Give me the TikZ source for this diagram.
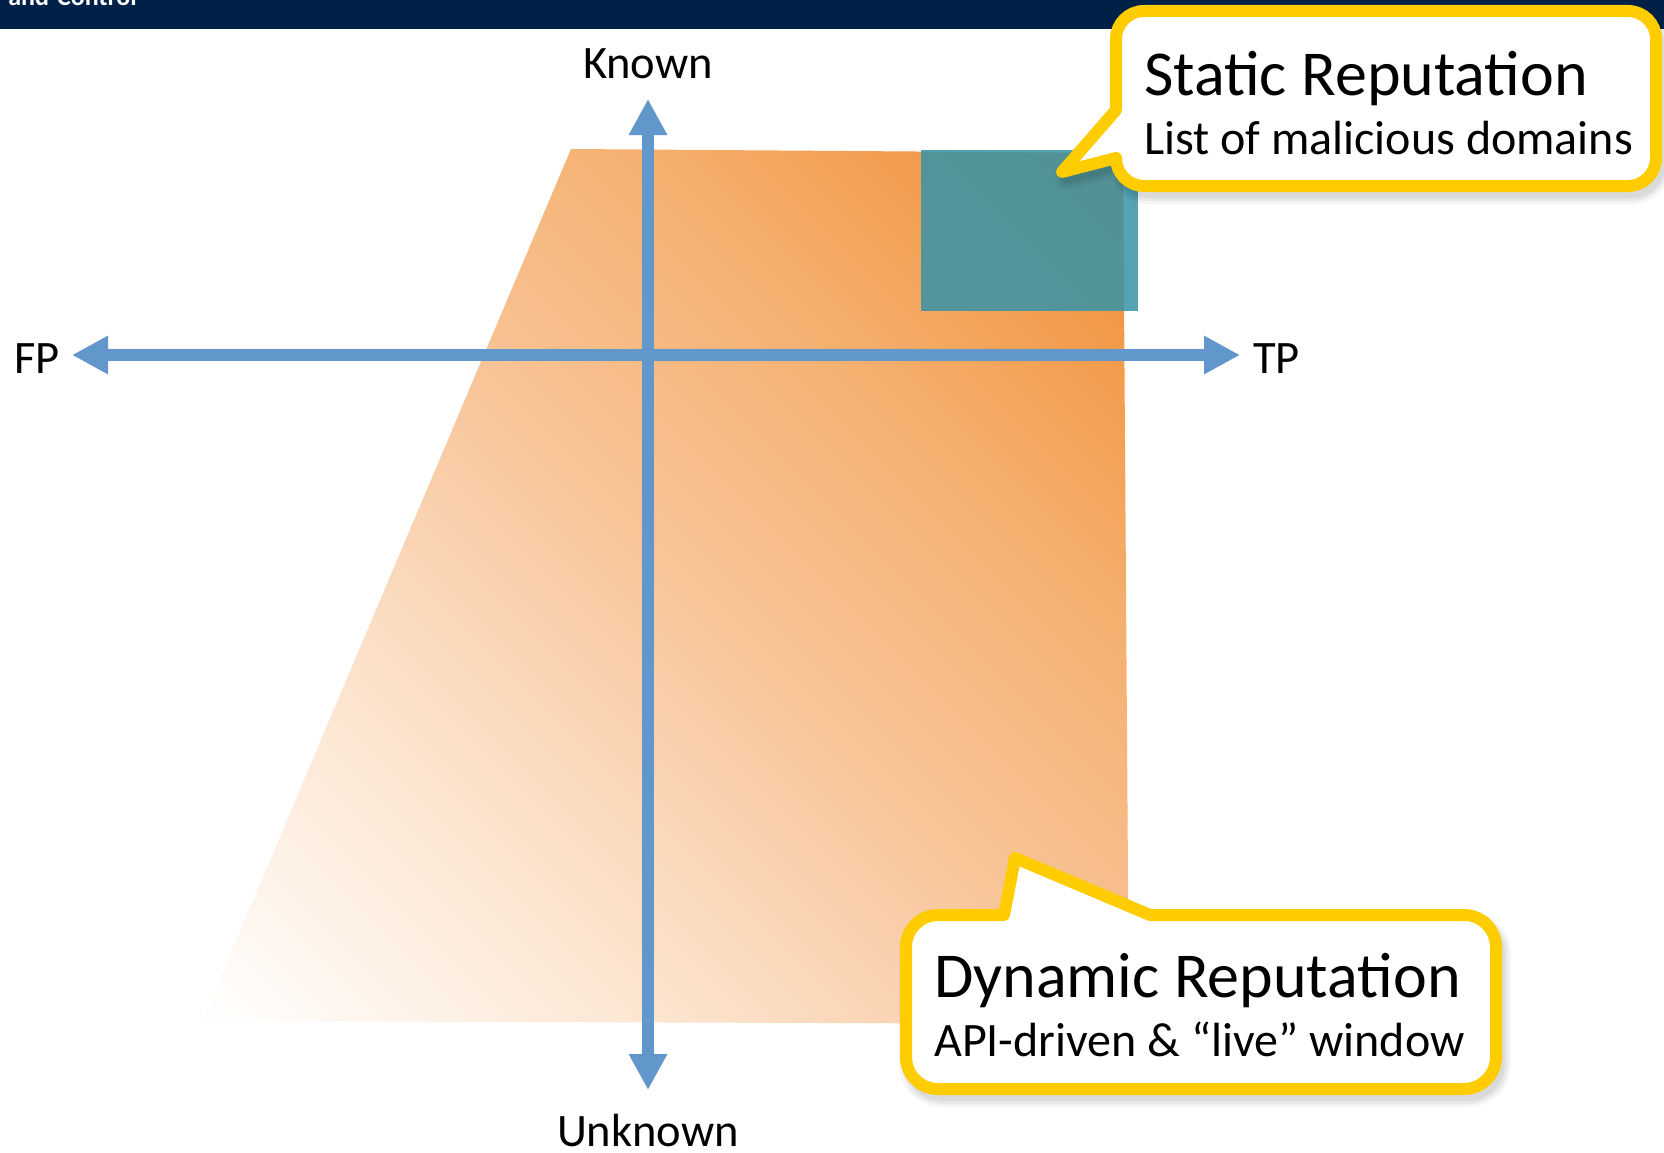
\documentclass[tikz,border=0pt]{standalone}
\usepackage{fontspec}
\setmainfont{Carlito}
\usetikzlibrary{arrows.meta}
\definecolor{navy}{RGB}{0,33,71}
\definecolor{axisblue}{RGB}{97,151,203}
\definecolor{calloutyellow}{RGB}{255,204,0}
\definecolor{tealbox}{RGB}{55,147,167}
\definecolor{orA}{RGB}{255,253,251}
\definecolor{orB}{RGB}{252,230,210}
\definecolor{orC}{RGB}{248,198,155}
\definecolor{orD}{RGB}{245,176,112}
\definecolor{orE}{RGB}{239,142,52}
\pgfdeclareverticalshading{orfade}{100bp}{color(0bp)=(orA); color(16bp)=(orA); color(32bp)=(orB); color(50bp)=(orC); color(66bp)=(orD); color(84bp)=(orE); color(100bp)=(orE)}
\tikzset{
  axislabel/.style={inner sep=0pt, font=\fontsize{46.5}{50}\selectfont},
  axisarrow/.style={draw=axisblue, line width=12pt, {Triangle[length=36pt,width=36pt]}-{Triangle[length=36pt,width=36pt]}},
  callout/.style={draw=calloutyellow, fill=white, line width=12pt, line join=round},
  calltitle/.style={inner sep=0pt, anchor=base west, font=\fontsize{64}{70}\selectfont},
  callsub/.style={inner sep=0pt, anchor=base west, font=\fontsize{48}{52}\selectfont},
}
\def\staticpath{(1116,110) -- (1116,39) arc[start angle=180,end angle=270,radius=28] -- (1628,11) arc[start angle=270,end angle=360,radius=28] -- (1656,158) arc[start angle=0,end angle=90,radius=28] -- (1144,186) arc[start angle=90,end angle=180,radius=28] -- (1062,172) -- cycle}
\def\dynpath{(906,947) arc[start angle=180,end angle=270,radius=32] -- (1004,915) -- (1015,858) -- (1150,915) -- (1464,915) arc[start angle=270,end angle=360,radius=32] -- (1496,1057) arc[start angle=0,end angle=90,radius=32] -- (938,1089) arc[start angle=90,end angle=180,radius=32] -- cycle}
\begin{document}
\begin{tikzpicture}[x=1pt,y=-1pt]
\useasboundingbox (0,0) rectangle (1664,1153);
\fill[white] (0,0) rectangle (1664,1153);
% header bar
\fill[navy] (0,0) rectangle (1664,29);
\node[inner sep=0pt, anchor=base east, text=white, font=\bfseries\fontsize{26}{28}\selectfont] (hdr) at (137,6) {-and-Control};
% orange region
\shade[shading=orfade, shading angle=-45] (571,149) -- (1123,153) -- (1129,1024) -- (202,1021) -- cycle;
% teal box
\fill[tealbox, opacity=0.85] (921,150) rectangle (1138,311);
% axes
\coordinate (ktip) at (648,99);
\coordinate (utip) at (648,1090);
\coordinate (fptip) at (72,355);
\coordinate (tptip) at (1240,355);
\draw[axisarrow] (ktip) -- (utip);
\draw[axisarrow] (fptip) -- (tptip);
\node[axislabel, anchor=base] (known) at (648,79) {Known};
\node[axislabel, anchor=base] (unknown) at (648,1146) {Unknown};
\node[axislabel, anchor=base west] (fp) at (14,373) {FP};
\node[axislabel, anchor=base west] (tp) at (1253,373) {TP};
% callout shadows
\begin{scope}[shift={(4,7)}]
  \foreach \w/\o in {22/0.04,16/0.05,10/0.06} {
    \draw[line width=\w pt, black, opacity=\o, line join=round] \staticpath;
    \draw[line width=\w pt, black, opacity=\o, line join=round] \dynpath;
  }
\end{scope}
% callouts
\draw[callout] \staticpath;
\draw[callout] \dynpath;
\node[calltitle] (sttitle) at (1144,96) {Static Reputation};
\node[callsub] (stsub) at (1144,154) {List of malicious domains};
\node[calltitle] (dytitle) at (934,997) {Dynamic Reputation};
\node[callsub] (dysub) at (934,1056) {API-driven \& “live” window};
\end{tikzpicture}
\end{document}
